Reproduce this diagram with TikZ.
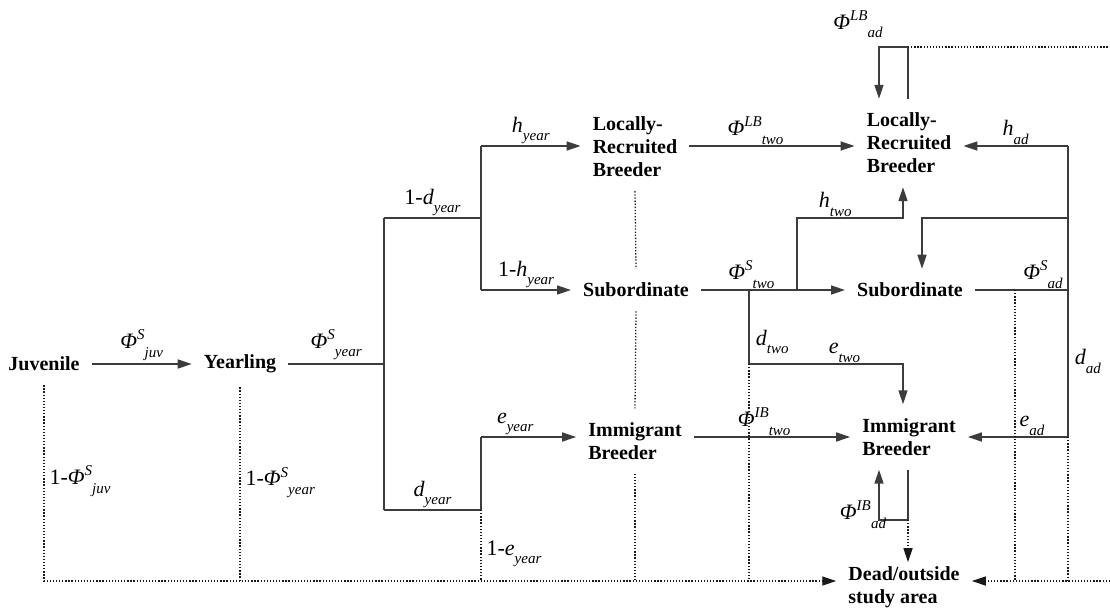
\documentclass[tikz,border=0pt]{standalone}
\usepackage{fontspec}
\setmainfont{Liberation Serif}
\usetikzlibrary{positioning,arrows.meta,calc}
\definecolor{lnink}{RGB}{60,60,60}
\newcommand{\smallit}{\fontsize{15}{15}\selectfont\itshape}
\newcommand{\Phii}{\textit{Φ}}
\newcommand{\rate}[3]{#1\raisebox{.4em}{\smallit #2}\raisebox{-.38em}{\smallit #3}}
\newcommand{\ratestk}[3]{#1\rlap{\raisebox{.4em}{\smallit #2}}\hspace{.65em}\raisebox{-.42em}{\smallit #3}}
\tikzset{
  stage/.style={font=\fontsize{20}{23}\selectfont\bfseries, text=black, align=left,
    inner xsep=12pt, inner ysep=14pt},
  lbl/.style={font=\fontsize{22}{24}\selectfont, text=black, inner sep=1pt},
  solidln/.style={draw=lnink, line width=1.6pt},
  flow/.style={solidln, -{Triangle[length=14pt,width=9pt]}},
  deadln/.style={draw=black!90, line width=1.3pt, dash pattern=on 1.3pt off 1.8pt},
  deadflow/.style={deadln, -{Triangle[length=14pt,width=9pt]}},
}
\begin{document}
\begin{tikzpicture}[x=1pt, y=-1pt]
  \useasboundingbox (0,0) rectangle (1110,608);

  % Stadien
  \node[stage] (juv) at (44,364) {Juvenile};
  \node[stage] (yrl) at (240,364) {Yearling};
  \node[stage] (lrb1) at (635,147) {Locally-\\Recruited\\Breeder};
  \node[stage] (sub1) at (636,290) {Subordinate};
  \node[stage] (ib1) at (635,441) {Immigrant\\Breeder};
  \node[stage] (lrb2) at (909,143) {Locally-\\Recruited\\Breeder};
  \node[stage] (sub2) at (910,290) {Subordinate};
  \node[stage] (ib2) at (909,437) {Immigrant\\Breeder};
  \node[stage, inner ysep=4pt] (dead) at (904,587) {Dead/outside\\study area};

  % Knickpunkte
  \coordinate (ysp) at (384,364);
  \coordinate (yup) at (384,218);
  \coordinate (ydn) at (384,510);
  \coordinate (hup) at (481,218);
  \coordinate (hlb) at (481,146);
  \coordinate (hsb) at (481,290);
  \coordinate (edn) at (481,510);
  \coordinate (eib) at (481,437);
  \coordinate (floorL) at (42,581);
  \coordinate (floorR) at (1110,581);

  % Jungtiere
  \draw[flow] (juv) -- node[lbl, above=2pt] {\rate{\Phii}{S}{juv}} (yrl);
  \draw[solidln] (yrl) -- node[lbl, above=2pt] {\rate{\Phii}{S}{year}} (ysp);
  \draw[solidln] (yup) -- (ydn);
  \draw[solidln] (yup) -- node[lbl, above] {\rate{1-\textit{d}}{}{year}} (hup);
  \draw[solidln] (ydn) -- node[lbl, above] {\rate{\textit{d}}{}{year}} (edn);
  \draw[solidln] (hlb) -- (hsb);
  \draw[flow] (hlb) -- node[lbl, above] {\rate{\textit{h}}{}{year}} (hlb -| lrb1.west);
  \draw[flow] (hsb) -- node[lbl, above] {\rate{1-\textit{h}}{}{year}} (hsb -| sub1.west);
  \draw[solidln] (eib) -- (edn);
  \draw[flow] (eib) -- node[lbl, above, pos=0.36] {\rate{\textit{e}}{}{year}} (eib -| ib1.west);
  \draw[deadln] (edn) -- node[lbl, right=4pt, pos=0.62] {\rate{1-\textit{e}}{}{year}} (edn |- floorL);

  % Verluste
  \draw[deadflow] (juv.south) -- node[lbl, right=4pt, pos=0.49] {\rate{1-\Phii}{S}{juv}}
    (juv.south |- floorL) -- (floorL -| dead.west);
  \draw[deadln] (yrl.south) -- node[lbl, right=4pt, pos=0.49] {\rate{1-\Phii}{S}{year}} (yrl.south |- floorL);
  \draw[deadln] (lrb1.south) -- (sub1.north);
  \draw[deadln] (sub1.south) -- (ib1.north);
  \draw[deadln] (ib1.south) -- (ib1.south |- floorL);

  % Zweijaehrige
  \draw[flow] (lrb1.east |- hlb) -- node[lbl, above, pos=0.4] {\rate{\Phii}{LB}{two}} (hlb -| lrb2.west);
  \draw[flow] (sub1) -- node[lbl, above, pos=0.35] {\rate{\Phii}{S}{two}} (sub2);
  \draw[flow] (ib1.east |- eib) -- node[lbl, above, pos=0.45] {\rate{\Phii}{IB}{two}} (eib -| ib2.west);
  \coordinate (htw) at (797,290);
  \coordinate (htk) at (903,218);
  \draw[flow] (htw) |- node[lbl, above, pos=0.68] {\rate{\textit{h}}{}{two}} (htk) -- (htk |- lrb2.south);
  \coordinate (dtw) at (749,290);
  \coordinate (dtk) at (749,364);
  \coordinate (etk) at (903,364);
  \draw[solidln] (dtw) -- node[lbl, right=5pt, pos=0.7] {\rate{\textit{d}}{}{two}} (dtk);
  \draw[flow] (dtk) -- node[lbl, above, pos=0.62] {\rate{\textit{e}}{}{two}} (etk) -- (etk |- ib2.north);
  \draw[deadln] (dtk) -- (dtk |- floorL);

  % Adulte
  \coordinate (rtp) at (1068,146);
  \coordinate (rsb) at (1068,218);
  \coordinate (rsu) at (1068,290);
  \coordinate (rib) at (1068,437);
  \coordinate (sdk) at (1015,290);
  \draw[solidln] (rtp) -- node[lbl, right=5pt, pos=0.74] {\rate{\textit{d}}{}{ad}} (rib);
  \draw[flow] (rtp) -- node[lbl, above] {\rate{\textit{h}}{}{ad}} (rtp -| lrb2.east);
  \draw[flow] (rsb) -| ([xshift=12pt]sub2.north);
  \draw[solidln] (sub2) -- node[lbl, above, pos=0.73] {\rate{\Phii}{S}{ad}} (rsu);
  \draw[flow] (rib) -- node[lbl, above, pos=0.36] {\rate{\textit{e}}{}{ad}} (rib -| ib2.east);
  \draw[deadln] (sdk) -- (sdk |- floorL);
  \draw[deadln] (rib) -- (rib |- floorL);
  \draw[deadflow] (floorR) -- (floorR -| dead.east);

  % Schleifen
  \coordinate (lpa) at (908,47);
  \coordinate (lpb) at (879,47);
  \draw[flow] (lpa |- lrb2.north) -- (lpa) -- (lpb) -- (lpb |- lrb2.north);
  \draw[deadln] (lpa) -- (lpa -| floorR);
  \node[lbl] (phlb) at (858,24) {\rate{\Phii}{LB}{ad}};
  \coordinate (ipa) at (908,520);
  \coordinate (ipb) at (879,520);
  \draw[flow] (ipa |- ib2.south) -- (ipa) -- (ipb) -- (ipb |- ib2.south);
  \draw[deadflow] (ipa) -- (ipa |- dead.north);
  \node[lbl] (phib) at (863,515) {\ratestk{\Phii}{IB}{ad}};
\end{tikzpicture}
\end{document}
